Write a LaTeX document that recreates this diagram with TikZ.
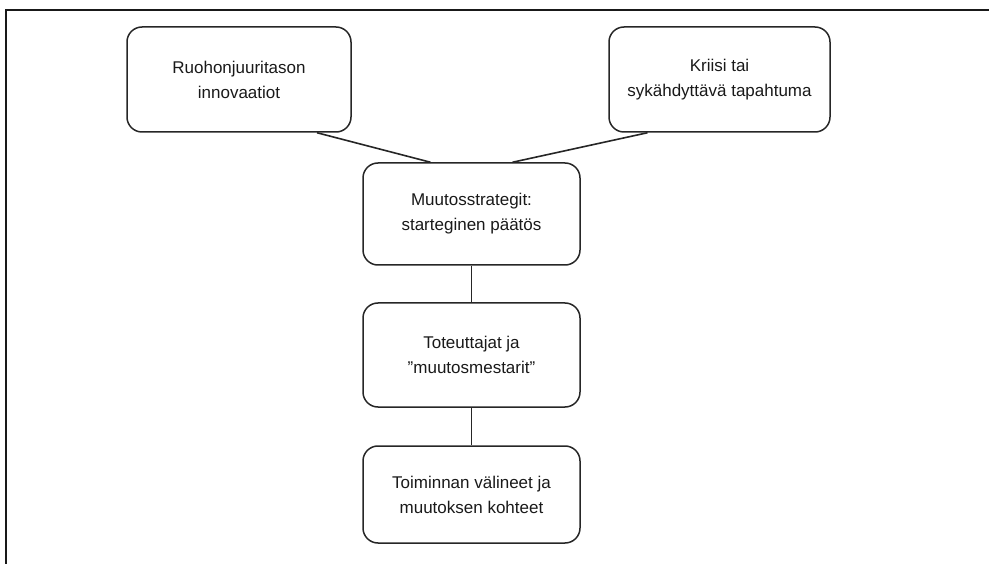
\documentclass[tikz,border=0pt]{standalone}
\usepackage{fontspec}
\setmainfont{Liberation Sans}
\begin{document}
\begin{tikzpicture}[x=1pt,y=-1pt,
  box/.style={draw=black!85, line width=1.5pt, rounded corners=15pt, align=center,
    font=\fontsize{17}{25}\selectfont, text=black!90, inner sep=0pt},
  conn/.style={draw=black!85, line width=1.6pt}]
\useasboundingbox (0,0) rectangle (989,564);
\draw[line width=2pt, black!90] (6,570) -- (6,10) -- (995,10);
\node[box, minimum width=224pt, minimum height=105pt] (b1) at (239,79.5) {Ruohonjuuritason\\innovaatiot};
\node[box, minimum width=221pt, minimum height=105pt] (b2) at (719.5,79.5) {Kriisi tai\\sykähdyttävä tapahtuma};
\node[box, minimum width=217pt, minimum height=102pt] (b3) at (471.5,214) {Muutosstrategit:\\starteginen päätös};
\node[box, minimum width=217pt, minimum height=104pt] (b4) at (471.5,355) {Toteuttajat ja\\”muutosmestarit”};
\node[box, minimum width=217pt, minimum height=97pt] (b5) at (471.5,494.5) {Toiminnan välineet ja\\muutoksen kohteet};
\draw[conn] ([xshift=78pt]b1.south) -- ([xshift=-41pt]b3.north);
\draw[conn] ([xshift=-72pt]b2.south) -- ([xshift=41pt]b3.north);
\draw[conn] (b3.south) -- (b4.north);
\draw[conn] (b4.south) -- (b5.north);
\end{tikzpicture}
\end{document}
